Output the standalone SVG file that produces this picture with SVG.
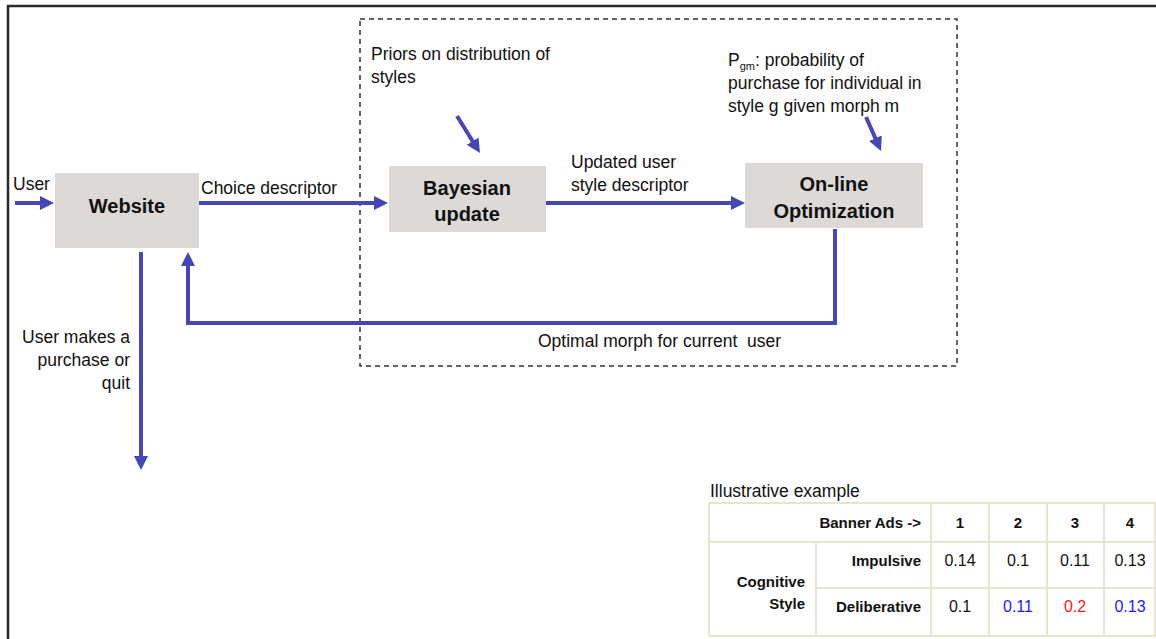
<svg xmlns="http://www.w3.org/2000/svg" width="1156" height="639" viewBox="0 0 1156 639">
<style>
text{font-family:"Liberation Sans",Arial,sans-serif;fill:#111}
.lbl{font-size:17.5px}
.node rect{fill:#dcd9d6}
.node text{font-size:20px;font-weight:bold;text-anchor:middle}
.conn{fill:none;stroke:#4646b4;stroke-width:4}
.grid line{stroke:#e6e6cf;stroke-width:2}
.tb{font-size:15px;font-weight:bold}
.tv{font-size:16px;text-anchor:middle}
</style>
<defs>
<marker id="ah" markerUnits="userSpaceOnUse" markerWidth="14" markerHeight="14" refX="4" refY="7" orient="auto">
<path d="M0,0 L14,7 L0,14 z" fill="#4646b4"/>
</marker>
</defs>
<rect width="1156" height="639" fill="#fff"/>
<path d="M8,639 V6 H1156" fill="none" stroke="#2a2a2a" stroke-width="2.5"/>
<rect x="360" y="19" width="597" height="347" fill="none" stroke="#333" stroke-width="1.5" stroke-dasharray="5,4"/>

<g id="website" class="node"><rect x="55" y="173" width="144" height="75"/><text x="127" y="213">Website</text></g>
<g id="bayesian" class="node"><rect x="389" y="166" width="157" height="66"/><text x="467" y="195">Bayesian</text><text x="467" y="221">update</text></g>
<g id="optimization" class="node"><rect x="745" y="163" width="178" height="65"/><text x="834" y="191">On-line</text><text x="834" y="218">Optimization</text></g>

<g id="connectors">
<path class="conn" d="M15,203 H44" marker-end="url(#ah)"/>
<path class="conn" d="M199,203 H378" marker-end="url(#ah)"/>
<path class="conn" d="M546,203 H735" marker-end="url(#ah)"/>
<path class="conn" d="M457,116 L474.7,144.5" marker-end="url(#ah)"/>
<path class="conn" d="M866,117 L877,141.9" marker-end="url(#ah)"/>
<path class="conn" d="M835,229 V323 H188 V262" marker-end="url(#ah)"/>
<path class="conn" d="M141,252 V460" marker-end="url(#ah)"/>
</g>

<g id="labels" class="lbl">
<text x="13" y="190">User</text>
<text x="201" y="194">Choice descriptor</text>
<text x="571" y="168">Updated user</text>
<text x="571" y="191">style descriptor</text>
<text x="371" y="60">Priors on distribution of</text>
<text x="371" y="83">styles</text>
<text x="728" y="66">P<tspan font-size="11" dy="4">gm</tspan><tspan dy="-4">: probability of</tspan></text>
<text x="728" y="89">purchase for individual in</text>
<text x="728" y="112">style g given morph m</text>
<text x="538" y="347" xml:space="preserve">Optimal morph for current  user</text>
<text x="130" y="343" text-anchor="end">User makes a</text>
<text x="130" y="366" text-anchor="end">purchase or</text>
<text x="130" y="389" text-anchor="end">quit</text>
</g>

<g id="table">
<text x="710" y="497" style="font-size:17.5px">Illustrative example</text>
<g class="grid">
<line x1="709" y1="503" x2="1156" y2="503"/>
<line x1="709" y1="542" x2="1156" y2="542"/>
<line x1="816" y1="588" x2="1156" y2="588"/>
<line x1="709" y1="636" x2="1156" y2="636"/>
<line x1="709" y1="503" x2="709" y2="636"/>
<line x1="816" y1="542" x2="816" y2="636"/>
<line x1="931" y1="503" x2="931" y2="636"/>
<line x1="989" y1="503" x2="989" y2="636"/>
<line x1="1047" y1="503" x2="1047" y2="636"/>
<line x1="1104" y1="503" x2="1104" y2="636"/>
<line x1="1155" y1="503" x2="1155" y2="636"/>
</g>
<text x="921" y="528" class="tb" text-anchor="end">Banner Ads -&gt;</text>
<text x="960" y="528" class="tb" text-anchor="middle">1</text>
<text x="1018" y="528" class="tb" text-anchor="middle">2</text>
<text x="1075" y="528" class="tb" text-anchor="middle">3</text>
<text x="1130" y="528" class="tb" text-anchor="middle">4</text>
<text x="921" y="566" class="tb" text-anchor="end">Impulsive</text>
<text x="921" y="612" class="tb" text-anchor="end">Deliberative</text>
<text x="805" y="587" class="tb" text-anchor="end">Cognitive</text>
<text x="805" y="609" class="tb" text-anchor="end">Style</text>
<text x="960" y="566" class="tv">0.14</text>
<text x="1018" y="566" class="tv">0.1</text>
<text x="1075" y="566" class="tv">0.11</text>
<text x="1130" y="566" class="tv">0.13</text>
<text x="960" y="612" class="tv">0.1</text>
<text x="1018" y="612" class="tv" style="fill:#1a1aff">0.11</text>
<text x="1075" y="612" class="tv" style="fill:#ff1a1a">0.2</text>
<text x="1130" y="612" class="tv" style="fill:#1a1aff">0.13</text>
</g>
</svg>
